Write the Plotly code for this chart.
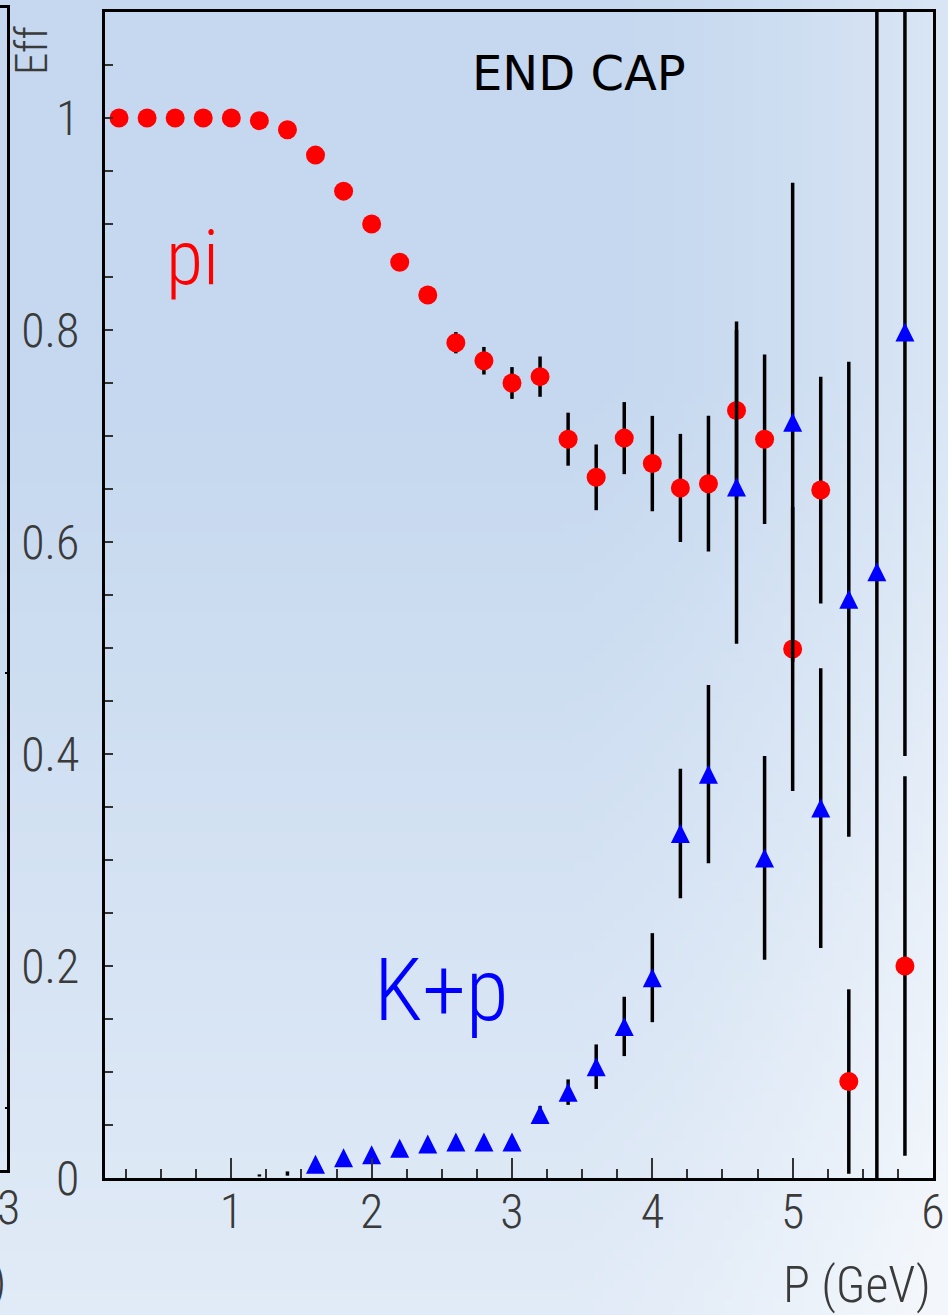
import base64, struct, zlib
import numpy as np
import plotly.graph_objects as go

# ---------------- data ----------------
pi_p = [0.2, 0.4, 0.6, 0.8, 1.0, 1.2, 1.4, 1.6, 1.8, 2.0, 2.2, 2.4, 2.6, 2.8, 3.0,
        3.2, 3.4, 3.6, 3.8, 4.0, 4.2, 4.4, 4.6, 4.8, 5.0, 5.2, 5.4, 5.8]
pi_eff = [1.0, 1.0, 1.0, 1.0, 1.0, 0.9975, 0.989, 0.965, 0.931, 0.900, 0.864, 0.833,
          0.788, 0.771, 0.750, 0.756, 0.697, 0.661, 0.698, 0.674, 0.651, 0.655,
          0.724, 0.697, 0.499, 0.649, 0.091, 0.200]
pi_err = [0.0, 0.0, 0.0, 0.0, 0.0, 0.001, 0.002, 0.003, 0.004, 0.005, 0.006, 0.007,
          0.010, 0.013, 0.015, 0.019, 0.025, 0.031, 0.034, 0.045, 0.051, 0.064,
          0.084, 0.080, 0.134, 0.107, 0.087, 0.179]

kp_p = [1.6, 1.8, 2.0, 2.2, 2.4, 2.6, 2.8, 3.0, 3.2, 3.4, 3.6, 3.8, 4.0, 4.2, 4.4,
        4.6, 4.8, 5.0, 5.2, 5.4, 5.6, 5.8]
kp_eff = [0.013, 0.019, 0.022, 0.028, 0.032, 0.034, 0.034, 0.034, 0.060, 0.081,
          0.105, 0.143, 0.189, 0.325, 0.381, 0.652, 0.302, 0.713, 0.349, 0.546,
          0.572, 0.798]
kp_err = [0.002, 0.002, 0.003, 0.003, 0.003, 0.004, 0.004, 0.004, 0.008, 0.012,
          0.021, 0.028, 0.042, 0.061, 0.084, 0.148, 0.096, 0.226, 0.132, 0.224,
          0.650, 0.400]

kp_low_p = [1.2, 1.4]
kp_low_eff = [0.0024, 0.0042]
kp_low_err = [0.001, 0.002]

x_ticks = [1, 2, 3, 4, 5, 6]
y_ticks = [0, 0.2, 0.4, 0.6, 0.8, 1]
y_ticklabels = ["0", "0.2", "0.4", "0.6", "0.8", "1"]

# ---------------- layout constants ----------------
W, H = 948, 1315
ML, MR, MT, MB = 105, 15, 12, 137
PW, PH = W - ML - MR, H - MT - MB

LABEL_FONT = "Roboto Condensed"
LABEL_W = 300
LABEL_C = "#3a3a3a"


def px2paper(px, py):
    return (px - ML) / PW, (H - MB - py) / PH


# ---------------- background gradient image ----------------
def gradient_uri():
    gw, gh = 95, 132
    xs = (np.arange(gw) + 0.5) * W / gw
    ys = (np.arange(gh) + 0.5) * H / gh
    X, Y = np.meshgrid(xs, ys)
    t = 0.62 * np.clip((Y - 380) / 920, 0, 1) + 0.45 * np.clip((X - 560) / 380, 0, 1) ** 1.5
    t = np.clip(t, 0, 1)
    c0 = np.array([197, 216, 239], float)
    c1 = np.array([243, 247, 252], float)
    img = (c0[None, None, :] * (1 - t[..., None]) + c1[None, None, :] * t[..., None])
    img = np.clip(img, 0, 255).astype(np.uint8)
    raw = b"".join(b"\x00" + img[r].tobytes() for r in range(gh))

    def chunk(tag, data):
        c = struct.pack(">I", len(data)) + tag + data
        return c + struct.pack(">I", zlib.crc32(tag + data) & 0xFFFFFFFF)

    png = (b"\x89PNG\r\n\x1a\n"
           + chunk(b"IHDR", struct.pack(">IIBBBBB", gw, gh, 8, 2, 0, 0, 0))
           + chunk(b"IDAT", zlib.compress(raw, 9))
           + chunk(b"IEND", b""))
    return "data:image/png;base64," + base64.b64encode(png).decode()


fig = go.Figure()

fig.add_trace(go.Scatter(
    x=pi_p, y=pi_eff, mode="markers", name="pi",
    marker=dict(symbol="circle", size=19, color="#ff0000", line=dict(width=0)),
    error_y=dict(type="data", array=pi_err, visible=True, color="black", thickness=3.5, width=0),
    showlegend=False,
))
fig.add_trace(go.Scatter(
    x=kp_low_p, y=kp_low_eff, mode="markers", name="K+p low",
    marker=dict(size=0.1, color="rgba(0,0,0,0)"),
    error_y=dict(type="data", array=kp_low_err, visible=True, color="black", thickness=3.5, width=0),
    showlegend=False,
))
fig.add_trace(go.Scatter(
    x=kp_p, y=kp_eff, mode="markers", name="K+p",
    marker=dict(symbol="arrow-down", angle=180, standoff=9.5, size=19, color="#0000ff",
                line=dict(width=0)),
    error_y=dict(type="data", array=kp_err, visible=True, color="black", thickness=3.5, width=0),
    showlegend=False,
))

tickfont = dict(family=LABEL_FONT, size=48, color=LABEL_C, weight=LABEL_W)

fig.update_xaxes(
    range=[0.1, 6.0], showgrid=False, zeroline=False, automargin=False,
    showline=True, linecolor="black", linewidth=3, mirror=True,
    ticks="inside", ticklen=20, tickwidth=1.5, tickcolor="#333333",
    tickvals=x_ticks, ticktext=[str(v) for v in x_ticks],
    minor=dict(ticks="inside", dtick=0.25, tick0=0, ticklen=9, tickwidth=1.5, tickcolor="#333333"),
    tickfont=tickfont,
    ticklabelstandoff=-11,
)
fig.update_yaxes(
    range=[0, 1.1], showgrid=False, zeroline=False, automargin=False,
    showline=True, linecolor="black", linewidth=3, mirror=True,
    ticks="inside", ticklen=8, tickwidth=1.5, tickcolor="#333333",
    tickvals=y_ticks, ticktext=y_ticklabels,
    minor=dict(ticks="inside", dtick=0.05, tick0=0, ticklen=8, tickwidth=1.5, tickcolor="#333333"),
    tickfont=tickfont,
    ticklabelstandoff=13,
)


def pix_annot(text, px, py, size, angle=0, xanchor="center", color=LABEL_C):
    ax, ay = px2paper(px, py)
    return dict(text=text, x=ax, y=ay, xref="paper", yref="paper", showarrow=False,
                textangle=angle, xanchor=xanchor, yanchor="middle",
                font=dict(family=LABEL_FONT, size=size, color=color, weight=LABEL_W))


annotations = [
    dict(text="END CAP", x=(579 - ML) / PW, y=1.042, xref="paper", yref="y",
         showarrow=False, font=dict(family="DejaVu Sans", size=48, color="black"),
         xanchor="center", yanchor="middle"),
    dict(text="pi", x=0.72, y=0.868, xref="x", yref="y", showarrow=False,
         font=dict(family=LABEL_FONT, size=76, color="#ff0000", weight=LABEL_W),
         xanchor="center", yanchor="middle"),
    dict(text="K+p", x=2.5, y=0.178, xref="x", yref="y", showarrow=False,
         font=dict(family=LABEL_FONT, size=88, color="#0000ff", weight=LABEL_W),
         xanchor="center", yanchor="middle"),
    pix_annot("P (GeV)", 933, 1285, 50, xanchor="right"),
    pix_annot("Eff", 31, 50, 45, angle=-90),
    pix_annot("3", 8, 1207, 48),
    pix_annot(")", -1, 1281, 48),
]

shapes = []


def seg(x0, y0, x1, y1, w=3):
    a0, b0 = px2paper(x0, y0)
    a1, b1 = px2paper(x1, y1)
    shapes.append(dict(type="line", xref="paper", yref="paper", x0=a0, y0=b0, x1=a1, y1=b1,
                       line=dict(color="black", width=w)))


seg(8.5, 5, 8.5, 1172.5)
seg(-5, 6.5, 10, 6.5)
seg(-5, 1171.5, 10, 1171.5)
seg(5, 673, 8.5, 673, 2)
seg(5, 1108, 8.5, 1108, 2)

gx, gy = px2paper(0, 0)
fig.update_layout(
    width=W, height=H, autosize=False,
    margin=dict(l=ML, r=MR, t=MT, b=MB, pad=0, autoexpand=False),
    paper_bgcolor="white", plot_bgcolor="rgba(0,0,0,0)",
    annotations=annotations, shapes=shapes,
    images=[dict(source=gradient_uri(), xref="paper", yref="paper", x=gx, y=gy,
                 sizex=W / PW, sizey=H / PH, xanchor="left", yanchor="top",
                 sizing="stretch", layer="below")],
    showlegend=False,
)

fig.write_html("out.html", config={"responsive": False})
